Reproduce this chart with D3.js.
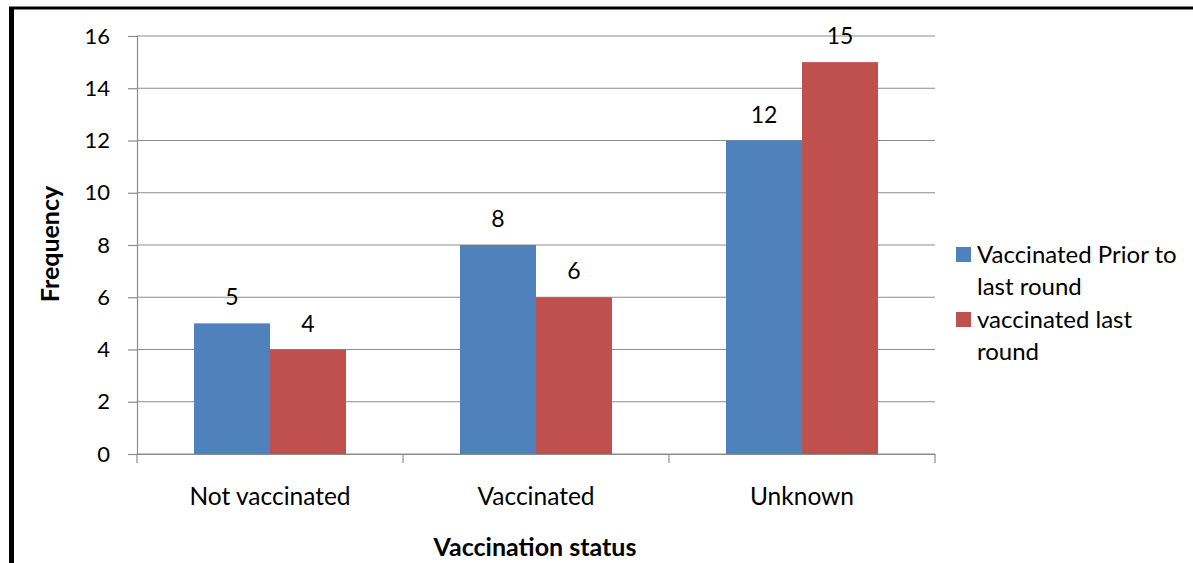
<!DOCTYPE html>
<html>
<head>
<meta charset="utf-8">
<script src="https://cdn.jsdelivr.net/npm/d3@7/dist/d3.min.js"></script>
<style>
  html, body { margin: 0; padding: 0; background: #fff; }
  svg { display: block; }
  text { font-family: Lato, "Noto Sans", sans-serif; fill: #000; }
</style>
</head>
<body>
<svg id="chart" width="1193" height="563"></svg>
<script>
// Frequency of cases by vaccination status
const categories = ["Not vaccinated", "Vaccinated", "Unknown"];
const seriesNames = ["Vaccinated Prior to last round", "vaccinated last round"];
const priorRound = [5, 8, 12];
const lastRound = [4, 6, 15];
const yTicks = [0, 2, 4, 6, 8, 10, 12, 14, 16];
const colors = ["#4F81BD", "#C0504D"];

const svg = d3.select("#chart");
const W = 1193, H = 563;

// outer frame: heavy rule on top and left
svg.append("line").attr("x1", 9).attr("x2", W).attr("y1", 8).attr("y2", 8)
  .attr("stroke", "#000").attr("stroke-width", 3);
svg.append("line").attr("x1", 11.5).attr("x2", 11.5).attr("y1", 7).attr("y2", H)
  .attr("stroke", "#000").attr("stroke-width", 5);

const plot = { left: 137, right: 935, top: 36, bottom: 454 };

const x0 = d3.scaleBand().domain(categories).range([plot.left, plot.right]).paddingInner(0).paddingOuter(0);
// gap of 150% of a bar width around each pair
const x1 = d3.scaleBand().domain([0, 1]).range([0, x0.bandwidth()]).paddingInner(0).paddingOuter(0.75);
const y = d3.scaleLinear().domain([0, 16]).range([plot.bottom, plot.top]);

const g = svg.append("g");

// horizontal gridlines
g.selectAll("line.grid").data(yTicks).join("line")
  .attr("class", "grid")
  .attr("x1", plot.left).attr("x2", plot.right)
  .attr("y1", d => y(d)).attr("y2", d => y(d))
  .attr("stroke", "#8c8c8c").attr("stroke-width", 1.2);

// y axis
const yAxis = d3.axisLeft(y).tickValues(yTicks).tickSize(9).tickPadding(18).tickFormat(d3.format("d"));
const ya = g.append("g").attr("transform", `translate(${plot.left},0)`).call(yAxis);
ya.select(".domain").attr("stroke", "#8c8c8c").attr("stroke-width", 1.2);
ya.selectAll(".tick line").attr("stroke", "#8c8c8c").attr("stroke-width", 1.2);
ya.selectAll(".tick text").attr("font-size", 22).attr("font-family", "Lato, sans-serif").attr("fill", "#000");

// x axis
const xAxis = d3.axisBottom(x0).tickSize(0).tickPadding(0);
const xa = g.append("g").attr("transform", `translate(0,${plot.bottom})`).call(xAxis);
xa.select(".domain").attr("stroke", "#8c8c8c").attr("stroke-width", 1.2);
xa.selectAll(".tick text").attr("font-size", 24.5).attr("font-family", "Lato, sans-serif")
  .attr("fill", "#000").attr("dy", null).attr("y", 51);
// category boundary tick marks
const bounds = categories.map(c => x0(c)).concat([plot.right]);
g.selectAll("line.xtick").data(bounds).join("line")
  .attr("class", "xtick")
  .attr("x1", d => d).attr("x2", d => d)
  .attr("y1", plot.bottom).attr("y2", plot.bottom + 9)
  .attr("stroke", "#8c8c8c").attr("stroke-width", 1.2);

// bars
const series = [priorRound, lastRound];
const rows = [];
series.forEach((vals, s) => vals.forEach((v, i) => rows.push({ s, cat: categories[i], v })));

g.selectAll("rect.bar").data(rows).join("rect")
  .attr("class", "bar")
  .attr("x", d => x0(d.cat) + x1(d.s))
  .attr("width", x1.bandwidth())
  .attr("y", d => y(d.v))
  .attr("height", d => y(0) - y(d.v))
  .attr("fill", d => colors[d.s]);

// value labels
g.selectAll("text.val").data(rows).join("text")
  .attr("class", "val")
  .attr("x", d => x0(d.cat) + x1(d.s) + x1.bandwidth() / 2)
  .attr("y", d => y(d.v) - 18)
  .attr("text-anchor", "middle")
  .attr("font-size", 23)
  .text(d => d.v);

// axis titles
svg.append("text")
  .attr("transform", `translate(59,${(plot.top + plot.bottom) / 2 - 1}) rotate(-90)`)
  .attr("text-anchor", "middle")
  .attr("font-size", 25).attr("font-weight", "bold")
  .text("Frequency");
svg.append("text")
  .attr("x", (plot.left + plot.right) / 2 - 1).attr("y", 556)
  .attr("text-anchor", "middle")
  .attr("font-size", 25).attr("font-weight", "bold")
  .text("Vaccination status");

// legend
const legendLines = [["Vaccinated Prior to", "last round"], ["vaccinated last", "round"]];
const lg = svg.append("g").attr("transform", "translate(956,247)");
legendLines.forEach((lines, i) => {
  const gy = i * 65;
  lg.append("rect").attr("x", 0).attr("y", gy).attr("width", 15).attr("height", 15).attr("fill", colors[i]);
  lines.forEach((t, j) => {
    lg.append("text").attr("x", 21).attr("y", gy + 16 + j * 32)
      .attr("font-size", 24).text(t);
  });
});
</script>
</body>
</html>
